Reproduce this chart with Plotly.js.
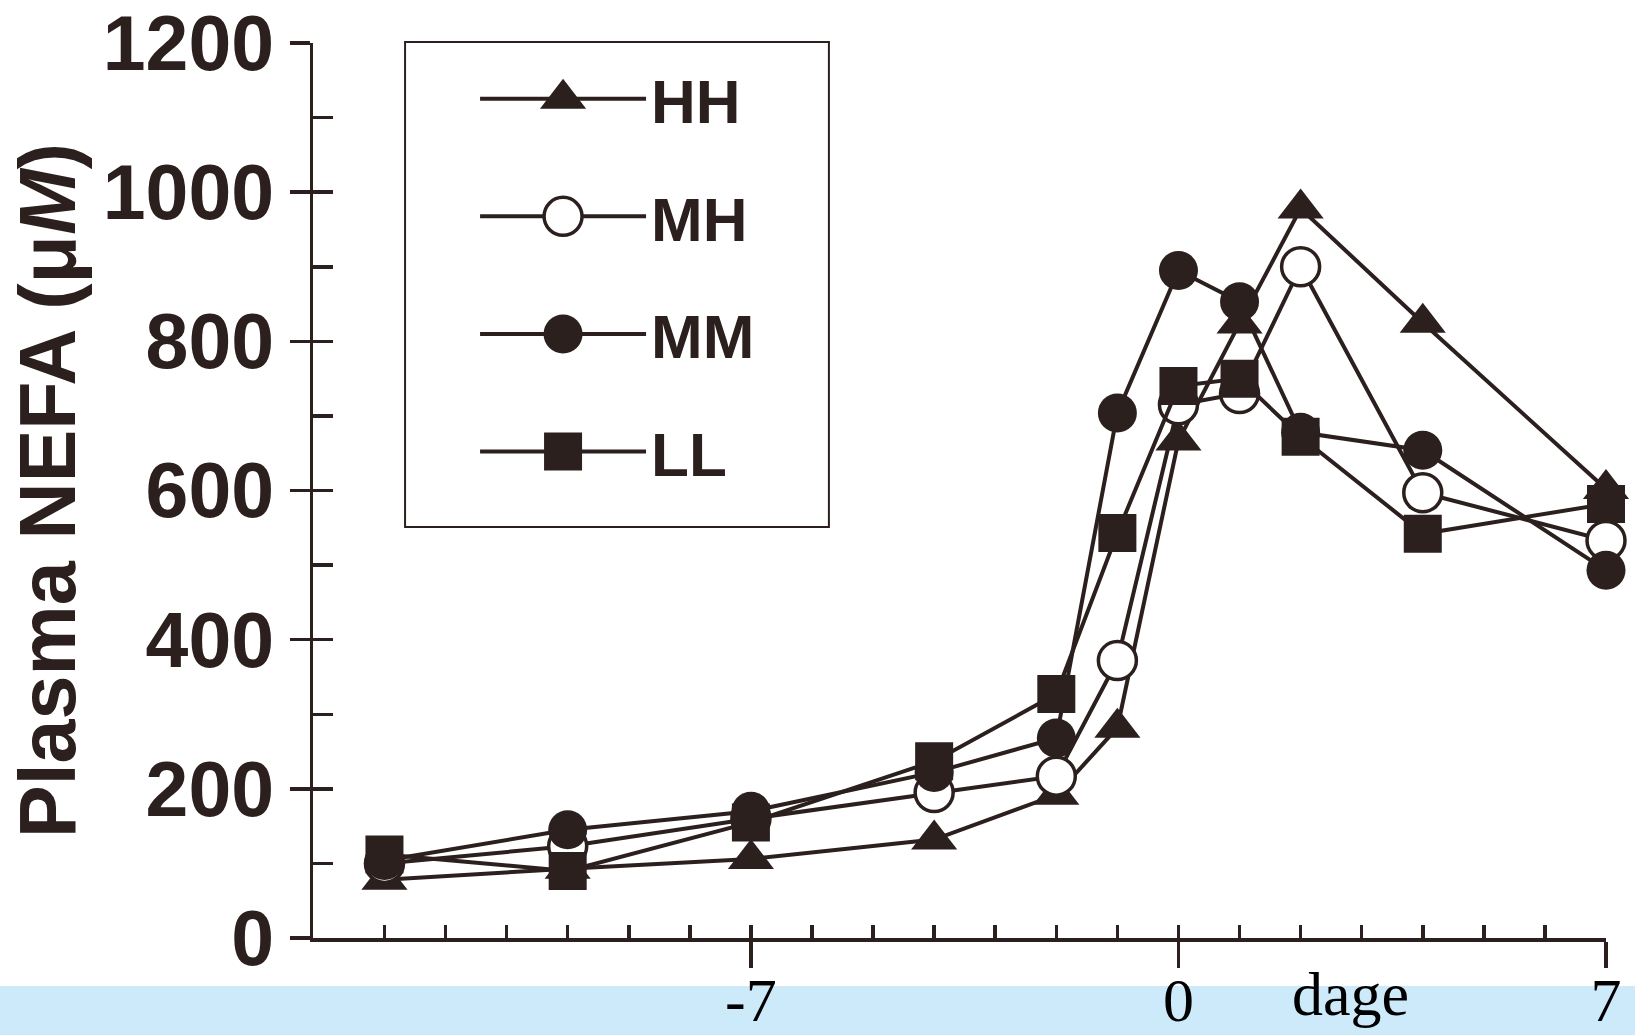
<!DOCTYPE html>
<html>
<head>
<meta charset="utf-8">
<script src="https://cdn.plot.ly/plotly-3.0.1.min.js"></script>
<style>
  html, body { margin: 0; padding: 0; background: #ffffff; }
  #chart { width: 1635px; height: 1035px; }
</style>
</head>
<body>
<div id="chart"></div>
<script>
// ---- data ----
const days = [-13, -10, -7, -4, -2, -1, 0, 1, 2, 4, 7];
const HH = [78, 93, 106, 132, 192, 282, 667, 824, 978, 825, 602];
const MH = [100, 123, 160, 195, 217, 372, 715, 730, 900, 597, 533];
const MM = [104, 145, 170, 222, 268, 704, 895, 853, 678, 654, 493];
const LL = [112, 90, 155, 237, 327, 543, 740, 750, 672, 542, 582];

const seriesNames = ['HH', 'MH', 'MM', 'LL'];
const xTickVals = [-7, 0, 7];
const xTickText = ['-7', '0', '7'];
const dayTicks = [-13, -12, -11, -10, -9, -8, -7, -6, -5, -4, -3, -2, -1, 0, 1, 2, 3, 4, 5, 6, 7];
const yTickVals = [0, 200, 400, 600, 800, 1000, 1200];
const yTitle = 'Plasma NEFA (μ<i>M</i>)';
const xTitle = 'dage';

// ---- styling ----
const ink = '#2b201e';
const xRange = [-14.17, 7];
const yRange = [0, 1200];

function series(name, y, symbol, size, filled, group) {
  return {
    type: 'scatter', mode: 'lines+markers', name: name, x: days, y: y,
    legendgroup: group,
    cliponaxis: false,
    line: { color: ink, width: 4 },
    marker: {
      symbol: symbol, size: size,
      color: filled ? ink : '#ffffff',
      line: { color: ink, width: filled ? 0 : 3.5 }
    },
    hoverinfo: 'x+y+name'
  };
}

const traces = [
  series(seriesNames[0], HH, 'triangle-up', 40, true, 'g1'),
  series(seriesNames[1], MH, 'circle', 38, false, 'g2'),
  series(seriesNames[2], MM, 'circle', 39, true, 'g3'),
  series(seriesNames[3], LL, 'square', 38, true, 'g4'),
  // carriers for the overlay axes (inside tick marks, tick labels)
  { type: 'scatter', x: [], y: [], xaxis: 'x2', yaxis: 'y2', showlegend: false, hoverinfo: 'skip' },
  { type: 'scatter', x: [], y: [], xaxis: 'x3', yaxis: 'y', showlegend: false, hoverinfo: 'skip' }
];

const sansBold = { family: 'Liberation Sans, Arial, sans-serif', color: ink, weight: 'bold' };
const serif = { family: 'Liberation Serif, Times New Roman, serif', size: 62, color: '#000000' };

const layout = {
  width: 1635, height: 1035,
  margin: { l: 313, r: 29, t: 43, b: 97 },
  paper_bgcolor: '#ffffff',
  plot_bgcolor: 'rgba(0,0,0,0)',
  showlegend: true,
  xaxis: {
    range: xRange, showgrid: false, zeroline: false,
    showline: true, linecolor: ink, linewidth: 3.5,
    tickmode: 'array', tickvals: xTickVals,
    ticks: 'outside', ticklen: 26, tickwidth: 3.5, tickcolor: ink,
    showticklabels: false, automargin: false
  },
  xaxis2: {
    overlaying: 'x', anchor: 'y', side: 'bottom',
    range: xRange, showgrid: false, zeroline: false, showline: false,
    tickmode: 'array', tickvals: dayTicks,
    ticks: 'inside', ticklen: 13, tickwidth: 3.5, tickcolor: ink,
    showticklabels: false, automargin: false
  },
  xaxis3: {
    overlaying: 'x', anchor: 'y', side: 'bottom',
    range: xRange, showgrid: false, zeroline: false, showline: false,
    tickmode: 'array', tickvals: xTickVals, ticktext: xTickText,
    ticks: '', ticklabelstandoff: 20, ticklabeloverflow: 'allow',
    tickfont: serif, automargin: false
  },
  yaxis: {
    range: yRange, showgrid: false, zeroline: false,
    showline: true, linecolor: ink, linewidth: 3.5,
    tickmode: 'array', tickvals: yTickVals,
    ticks: 'outside', ticklen: 20, tickwidth: 3.5, tickcolor: ink,
    ticklabelstandoff: 0, ticklabeloverflow: 'allow',
    tickfont: Object.assign({ size: 77 }, sansBold),
    title: { text: yTitle, font: Object.assign({ size: 79 }, sansBold), standoff: 2 },
    automargin: false
  },
  yaxis2: {
    overlaying: 'y', anchor: 'x', side: 'left',
    range: yRange, showgrid: false, zeroline: false, showline: false,
    dtick: 100, tick0: 0,
    ticks: 'inside', ticklen: 20, tickwidth: 3.5, tickcolor: ink,
    showticklabels: false, automargin: false
  },
  legend: {
    x: 0.0712, y: 0.990, xanchor: 'left', yanchor: 'top',
    bgcolor: 'rgba(0,0,0,0)', borderwidth: 0,
    font: Object.assign({ size: 62 }, sansBold),
    traceorder: 'grouped', tracegroupgap: 34,
    itemwidth: 166, indentation: 70,
    itemclick: false, itemdoubleclick: false
  },
  shapes: [
    { // light-blue band behind the day labels
      type: 'rect', xref: 'paper', yref: 'paper', layer: 'below',
      x0: -0.3, x1: 1.1, y0: -0.12, y1: -0.0537,
      fillcolor: '#cdeafb', line: { width: 0 }
    },
    { // legend frame
      type: 'rect', xref: 'paper', yref: 'paper', layer: 'below',
      x0: 0.0712, x1: 0.399, y0: 0.4592, y1: 1.0011,
      fillcolor: '#ffffff', line: { color: ink, width: 2 }
    }
  ],
  annotations: [
    {
      text: xTitle, xref: 'paper', yref: 'paper',
      x: 0.8022, y: -0.1028, xanchor: 'center', yanchor: 'bottom',
      showarrow: false, font: serif
    }
  ]
};

Plotly.newPlot('chart', traces, layout, { staticPlot: true, displayModeBar: false }).then(function (gd) {
  // enlarge legend symbols (Plotly caps them at 16px) to match the plotted marker size
  gd.querySelectorAll('.legend .traces').forEach(function (tr) {
    const d = tr.__data__;
    if (!d || !d[0] || !d[0].trace) return;
    const s = d[0].trace.marker.size / 16;
    tr.querySelectorAll('path.scatterpts').forEach(function (p) {
      const t = p.getAttribute('transform') || '';
      p.setAttribute('transform', t + ' scale(' + s + ')');
      const sw = parseFloat(p.style.strokeWidth);
      if (!isNaN(sw)) p.style.strokeWidth = (sw / s) + 'px';
    });
  });
});
</script>
</body>
</html>
